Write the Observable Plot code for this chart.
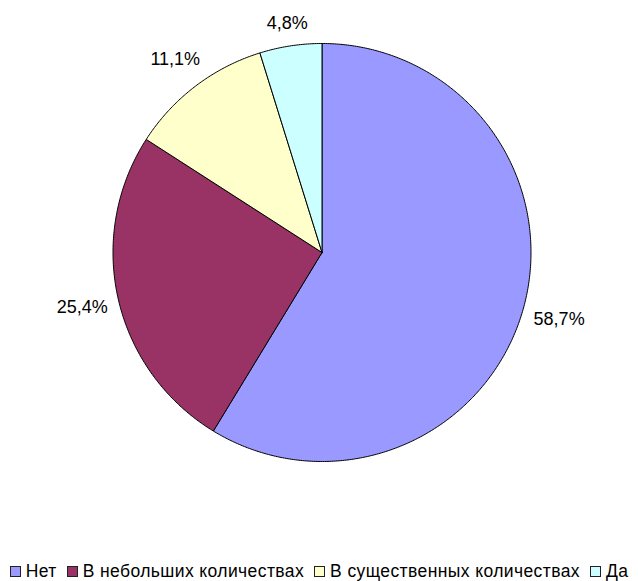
<!DOCTYPE html>
<html>
<head>
<meta charset="utf-8">
<script src="https://cdn.jsdelivr.net/npm/d3@7"></script>
<script src="https://cdn.jsdelivr.net/npm/@observablehq/plot@0.6"></script>
<style>
  body { margin: 0; background: #fff; font-family: Arial, "Liberation Sans", sans-serif; }
  #legend { display: flex; justify-content: center; align-items: center; padding-top: 31px;
    font-size: 17.5px; line-height: 20px; color: #000; white-space: nowrap; letter-spacing: 0.4px; }
  .item { display: flex; align-items: center; margin: 0 5px; }
  .sw { width: 9px; height: 9px; border: 1px solid #222; margin-right: 5px; }
</style>
</head>
<body>
<div id="chart"></div>
<script>
const categories = ["Нет", "В небольших количествах", "В существенных количествах", "Да"];
const values = [58.7, 25.4, 11.1, 4.8];
const labels = ["58,7%", "25,4%", "11,1%", "4,8%"];
const colors = ["#9999FF", "#993366", "#FFFFCC", "#CCFFFF"];

const W = 638, H = 530, R = 209, CX = 321.5, CY = 252;

const total = d3.sum(values);
const pts = [];
const labelRows = [];
let start = 0;
categories.forEach((c, i) => {
  const a0 = start / total * 2 * Math.PI;
  const a1 = (start + values[i]) / total * 2 * Math.PI;
  pts.push({key: c, x: 0, y: 0});
  const n = Math.max(2, Math.ceil((a1 - a0) / (Math.PI / 360)));
  for (let k = 0; k <= n; k++) {
    const a = a0 + (a1 - a0) * k / n;
    pts.push({key: c, x: Math.sin(a), y: Math.cos(a)});
  }
  pts.push({key: c, x: 0, y: 0});
  const am = (a0 + a1) / 2;
  const dx = Math.sin(am), dy = Math.cos(am);
  const txt = labels[i];
  const w = txt.replace(/[^0-9]/g, "").length * 10 + 5 + 16;
  const h = 20;
  const d = (R + 10 + Math.abs(dx) * w / 2 + Math.abs(dy) * h / 2) / R;
  labelRows.push({label: txt, x: dx * d, y: dy * d});
  start += values[i];
});

const plot = Plot.plot({
  width: W, height: H,
  margin: 0,
  x: {domain: [-CX / R, (W - CX) / R], axis: null},
  y: {domain: [-(H - CY) / R, CY / R], axis: null},
  color: {domain: categories, range: colors},
  marks: [
    Plot.line(pts, {x: "x", y: "y", z: "key", fill: "key", stroke: "#000", strokeWidth: 1, strokeLinejoin: "round"}),
    Plot.text(labelRows, {x: "x", y: "y", text: "label", fontSize: 18, fill: "#000", textAnchor: "middle", lineAnchor: "middle"})
  ],
  style: {fontFamily: "Arial, 'Liberation Sans', sans-serif", background: "#fff"}
});
document.getElementById("chart").appendChild(plot);

const legend = document.createElement("div");
legend.id = "legend";
categories.forEach((c, i) => {
  const it = document.createElement("div");
  it.className = "item";
  const sw = document.createElement("span");
  sw.className = "sw";
  sw.style.background = colors[i];
  const t = document.createElement("span");
  t.textContent = c;
  it.appendChild(sw); it.appendChild(t);
  legend.appendChild(it);
});
document.body.appendChild(legend);
</script>
</body>
</html>
